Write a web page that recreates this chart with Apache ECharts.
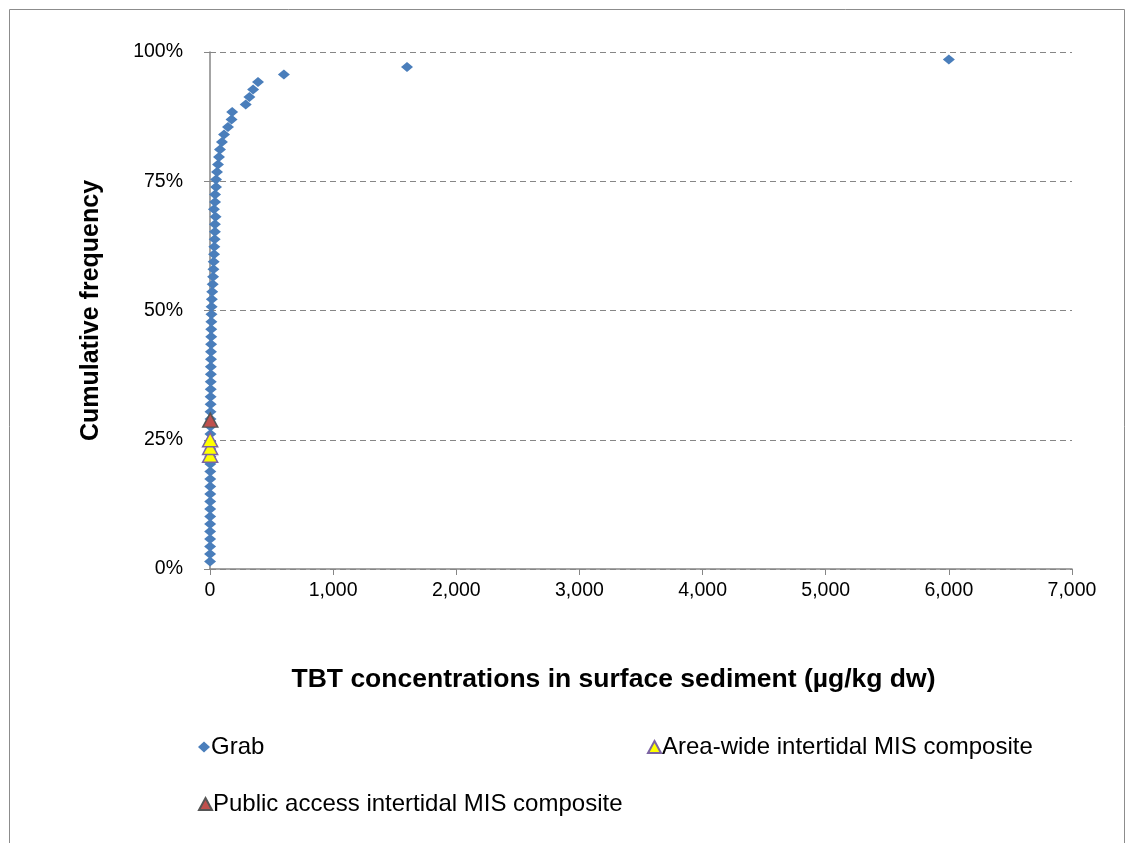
<!DOCTYPE html>
<html><head><meta charset="utf-8">
<script src="https://cdn.jsdelivr.net/npm/echarts@6/dist/echarts.min.js"></script>
<style>html,body{margin:0;padding:0;background:#fff}#c{width:1134px;height:843px}</style>
</head><body><div id="c"></div>
<script>
// Grab samples: TBT concentration (µg/kg dw), ranked; cumulative frequency = rank/69
const grabTBT = [0.5,0.6,0.8,1,1,1.2,1.5,1.6,1.8,2,
  2,2.2,2.5,2.8,3,3,3.2,3.5,3.8,4,
  4,5,5,6,6,7,7,8,8,9,
  10,10,11,12,13,15,18,22,25,28,
  30,33,35,38,40,40,45,32,41,41,
  49,49,57,65,73,81,97,114,146,175,
  180,290,320,350,390,600,1600,6000];
const grabFreq = [0.0145,0.029,0.0435,0.058,0.0725,0.087,0.1014,0.1159,0.1304,0.1449,
  0.1594,0.1739,0.1884,0.2029,0.2174,0.2319,0.2464,0.2609,0.2754,0.2899,
  0.3043,0.3188,0.3333,0.3478,0.3623,0.3768,0.3913,0.4058,0.4203,0.4348,
  0.4493,0.4638,0.4783,0.4928,0.5072,0.5217,0.5362,0.5507,0.5652,0.5797,
  0.5942,0.6087,0.6232,0.6377,0.6522,0.6667,0.6812,0.6957,0.7101,0.7246,
  0.7391,0.7536,0.7681,0.7826,0.7971,0.8116,0.8261,0.8406,0.8551,0.8696,
  0.8841,0.8986,0.913,0.9275,0.942,0.9565,0.971,0.9855];
const areaTBT = [1, 1, 1];
const areaFreq = [0.22, 0.235, 0.25];
const publicTBT = [2];
const publicFreq = [0.288];
const xTicks = [0,1000,2000,3000,4000,5000,6000,7000];
const yTicks = [0,0.25,0.5,0.75,1];

const pairs = (xs, ys) => xs.map((x, i) => [x, ys[i]]);
const FONT = 'Liberation Sans, Arial, sans-serif';
const legendText = {fontFamily: FONT, fontSize: 24, color: '#000', padding: [0,0,0,-4]};
const chart = echarts.init(document.getElementById('c'), null, {renderer: 'canvas'});
chart.setOption({
  animation: false,
  backgroundColor: '#fff',
  graphic: [{type: 'rect', shape: {x: 9.5, y: 9.5, width: 1115, height: 850}, style: {fill: 'none', stroke: '#8c8c8c', lineWidth: 1}, z: -1}],
  grid: {left: 210, right: 62, top: 52, bottom: 274},
  xAxis: {
    type: 'value', min: xTicks[0], max: xTicks[xTicks.length - 1], interval: 1000,
    name: 'TBT concentrations in surface sediment (µg/kg dw)', nameLocation: 'middle', nameGap: 97,
    nameTextStyle: {fontFamily: FONT, fontSize: 26.5, fontWeight: 'bold', color: '#000', padding: [0, 55, 0, 0]},
    axisLine: {show: true, lineStyle: {color: '#868686', width: 1.5}},
    axisTick: {show: true, length: 6, lineStyle: {color: '#868686'}},
    axisLabel: {fontFamily: FONT, fontSize: 19.5, color: '#000', margin: 12,
      formatter: v => v.toLocaleString('en-US')},
    splitLine: {show: false}
  },
  yAxis: {
    type: 'value', min: yTicks[0], max: yTicks[yTicks.length - 1], interval: 0.25,
    name: 'Cumulative frequency', nameLocation: 'middle', nameGap: 106,
    nameTextStyle: {fontFamily: FONT, fontSize: 25, fontWeight: 'bold', color: '#000'},
    axisLine: {show: true, lineStyle: {color: '#868686', width: 1.5}},
    axisTick: {show: true, length: 6, lineStyle: {color: '#868686'}},
    axisLabel: {fontFamily: FONT, fontSize: 19.5, color: '#000', margin: 27,
      formatter: v => Math.round(v * 100) + '%'},
    splitLine: {show: true, lineStyle: {color: '#868686', type: [6, 4], width: 1.2}}
  },
  legend: [
    {left: 193, top: 730, itemWidth: 12, itemHeight: 11, itemGap: 4, textStyle: legendText,
      data: [{name: 'Grab', icon: 'diamond'}]},
    {left: 642, top: 730, itemWidth: 13, itemHeight: 12, textStyle: legendText,
      data: [{name: 'Area-wide intertidal MIS composite', icon: 'triangle'}]},
    {left: 193, top: 787, itemWidth: 13, itemHeight: 12, textStyle: legendText,
      data: [{name: 'Public access intertidal MIS composite', icon: 'triangle'}]}
  ],
  series: [
    {name: 'Grab', type: 'scatter', symbol: 'diamond', symbolSize: [12, 10],
      itemStyle: {color: '#4a7ebb', opacity: 1}, data: pairs(grabTBT, grabFreq), z: 2},
    {name: 'Area-wide intertidal MIS composite', type: 'scatter', symbol: 'triangle', symbolSize: [15, 14],
      itemStyle: {color: '#ffff00', borderColor: '#7b63a3', borderWidth: 1.5, opacity: 1}, data: pairs(areaTBT, areaFreq), z: 3},
    {name: 'Public access intertidal MIS composite', type: 'scatter', symbol: 'triangle', symbolSize: [15, 14],
      itemStyle: {color: '#c0504d', borderColor: '#555', borderWidth: 1.5, opacity: 1}, data: pairs(publicTBT, publicFreq), z: 4}
  ]
});
</script></body></html>
